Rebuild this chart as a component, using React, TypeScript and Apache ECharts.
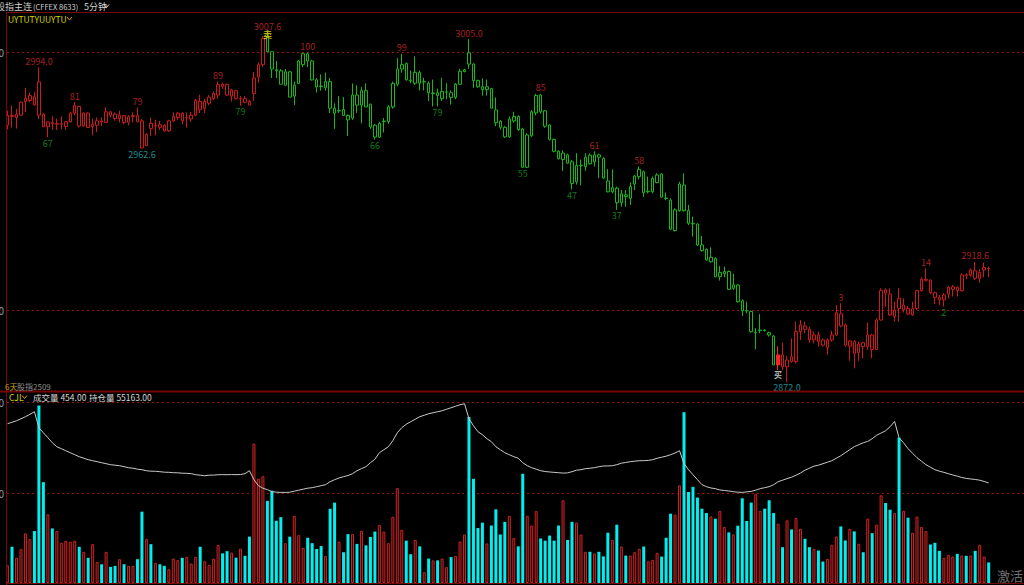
import React, { useEffect, useRef } from "react";
import * as echarts from "echarts";

// 5-minute bars: [open, close, low, high]
const ohlc: number[][] = [
  [2971.6, 2975.3, 2970.0, 2977.2], [2975.5, 2975.0, 2970.7, 2979.2], [2974.6, 2975.9, 2970.3, 2977.9], [2975.5, 2980.5, 2975.2, 2980.8],
  [2980.8, 2982.1, 2976.6, 2986.1], [2981.2, 2983.1, 2980.5, 2984.2], [2982.7, 2979.5, 2979.2, 2984.4], [2988.4, 2975.5, 2974.0, 2994.0],
  [2975.9, 2971.0, 2970.9, 2976.3], [2971.0, 2972.9, 2967.0, 2973.0], [2972.6, 2972.2, 2969.8, 2975.0], [2972.0, 2972.3, 2969.8, 2974.2],
  [2972.0, 2972.2, 2970.0, 2975.0], [2971.1, 2972.9, 2969.8, 2973.3], [2972.9, 2976.3, 2972.7, 2976.8], [2976.3, 2979.2, 2975.5, 2980.5],
  [2978.9, 2971.3, 2970.7, 2979.2], [2971.3, 2976.3, 2971.1, 2976.6], [2976.3, 2970.7, 2970.7, 2976.6], [2971.1, 2972.0, 2967.7, 2974.2],
  [2971.6, 2973.3, 2969.0, 2974.6], [2973.3, 2972.9, 2971.3, 2974.6], [2972.7, 2976.8, 2972.4, 2978.5], [2976.8, 2975.5, 2974.6, 2977.2],
  [2975.9, 2974.2, 2973.3, 2976.6], [2974.2, 2975.5, 2972.7, 2977.2], [2975.3, 2972.7, 2972.0, 2975.5], [2972.7, 2974.9, 2971.6, 2975.5],
  [2975.0, 2975.3, 2972.7, 2976.6], [2975.3, 2972.9, 2972.9, 2978.5], [2973.3, 2962.8, 2962.6, 2974.0], [2963.7, 2968.1, 2963.5, 2968.5],
  [2972.3, 2970.3, 2967.4, 2974.6], [2971.3, 2971.5, 2967.7, 2973.7], [2971.8, 2970.8, 2969.8, 2973.3], [2971.6, 2969.4, 2969.0, 2972.0],
  [2969.4, 2973.3, 2969.0, 2973.6], [2973.3, 2975.0, 2972.9, 2976.6], [2974.6, 2976.3, 2973.7, 2976.8], [2976.3, 2973.3, 2972.0, 2976.6],
  [2974.5, 2974.7, 2970.7, 2976.6], [2974.0, 2975.5, 2972.9, 2976.8], [2975.5, 2981.2, 2975.2, 2981.8], [2980.8, 2977.6, 2976.3, 2983.4],
  [2978.2, 2980.8, 2976.3, 2981.9], [2980.1, 2982.5, 2979.4, 2983.3], [2981.9, 2983.9, 2981.5, 2984.7], [2983.3, 2987.4, 2981.9, 2988.5],
  [2987.4, 2986.7, 2985.7, 2988.1], [2987.4, 2983.3, 2982.9, 2987.8], [2982.9, 2985.3, 2980.8, 2985.7], [2985.0, 2981.9, 2981.5, 2985.3],
  [2981.7, 2981.9, 2979.1, 2982.9], [2981.9, 2980.5, 2980.1, 2982.9], [2980.8, 2979.4, 2979.4, 2981.5], [2983.9, 2989.9, 2981.0, 2992.3],
  [2990.3, 2995.1, 2988.1, 2995.9], [2995.1, 3005.3, 2994.1, 3006.0], [3006.0, 3000.1, 2999.9, 3007.6], [3000.1, 2993.4, 2989.9, 3000.1],
  [2993.1, 2992.7, 2989.9, 2996.5], [2992.7, 2987.5, 2987.5, 2993.4], [2987.1, 2992.3, 2987.1, 2993.4], [2992.3, 2982.5, 2982.5, 2992.7],
  [2982.9, 2987.1, 2979.4, 2988.5], [2987.8, 2996.5, 2987.8, 2996.9], [2995.1, 2999.3, 2994.1, 2999.7], [2999.3, 2996.5, 2994.1, 2999.7],
  [2996.5, 2989.2, 2988.9, 2996.9], [2989.2, 2986.4, 2984.3, 2989.9], [2986.8, 2986.6, 2985.0, 2991.3], [2986.1, 2988.5, 2985.0, 2992.0],
  [2988.5, 2978.2, 2976.3, 2989.9], [2978.2, 2976.3, 2970.2, 2980.1], [2977.1, 2977.3, 2976.3, 2982.9], [2977.7, 2975.4, 2975.1, 2982.5],
  [2975.4, 2973.7, 2967.4, 2975.8], [2974.4, 2983.3, 2973.7, 2987.8], [2983.3, 2979.4, 2976.3, 2987.1], [2979.4, 2985.0, 2972.3, 2986.4],
  [2985.0, 2978.7, 2978.7, 2987.8], [2979.8, 2970.9, 2970.2, 2979.8], [2971.6, 2967.0, 2966.0, 2972.1], [2967.0, 2972.3, 2966.7, 2973.0],
  [2973.0, 2973.2, 2968.8, 2974.4], [2973.0, 2978.7, 2972.1, 2979.4], [2978.7, 2987.8, 2978.0, 2988.5], [2987.5, 2993.4, 2986.7, 2997.6],
  [2993.4, 2995.1, 2992.0, 2999.3], [2995.5, 2989.2, 2988.9, 2995.9], [2989.0, 2988.8, 2987.9, 2992.8], [2987.9, 2992.1, 2987.2, 2998.3],
  [2992.1, 2987.9, 2985.1, 2992.8], [2988.4, 2988.6, 2985.1, 2990.0], [2987.9, 2984.2, 2981.0, 2988.6], [2983.9, 2984.1, 2978.9, 2989.3],
  [2984.2, 2983.1, 2978.9, 2985.8], [2981.9, 2984.7, 2981.0, 2990.0], [2984.4, 2984.5, 2981.7, 2987.9], [2984.2, 2982.4, 2979.6, 2985.1],
  [2982.4, 2987.5, 2981.7, 2987.9], [2987.5, 2992.5, 2987.2, 2993.5], [2992.4, 2993.1, 2992.1, 2993.5], [2999.7, 2995.3, 2993.5, 3005.0],
  [2995.3, 2988.9, 2986.1, 2995.6], [2988.9, 2986.5, 2986.1, 2989.3], [2986.5, 2985.4, 2983.1, 2989.7], [2985.4, 2986.5, 2983.1, 2989.3],
  [2985.8, 2978.2, 2978.2, 2986.1], [2977.5, 2972.6, 2971.2, 2982.4], [2973.1, 2970.8, 2969.9, 2973.6], [2970.8, 2967.1, 2966.7, 2971.2],
  [2967.1, 2974.0, 2966.7, 2975.0], [2973.3, 2975.0, 2972.6, 2976.8], [2975.0, 2969.9, 2969.4, 2975.4], [2970.1, 2955.3, 2955.3, 2970.6],
  [2955.3, 2967.8, 2955.0, 2968.5], [2967.5, 2976.8, 2967.1, 2977.5], [2976.4, 2983.1, 2975.4, 2983.8], [2983.3, 2976.8, 2976.1, 2983.8],
  [2977.2, 2971.2, 2970.6, 2977.5], [2971.7, 2966.1, 2965.7, 2971.9], [2966.1, 2961.5, 2961.1, 2966.4], [2961.5, 2958.7, 2958.3, 2961.9],
  [2958.3, 2960.8, 2953.9, 2961.9], [2960.1, 2956.9, 2956.7, 2960.6], [2957.4, 2949.0, 2946.7, 2958.1], [2949.7, 2956.0, 2948.6, 2960.8],
  [2955.9, 2956.1, 2948.3, 2958.3], [2955.6, 2959.2, 2953.9, 2960.8], [2960.0, 2956.7, 2956.4, 2960.6], [2957.4, 2960.1, 2955.6, 2961.5],
  [2960.1, 2959.2, 2951.1, 2960.6], [2958.7, 2951.1, 2950.8, 2959.2], [2950.0, 2945.8, 2945.6, 2954.6], [2945.8, 2947.4, 2945.2, 2954.5],
  [2947.2, 2941.6, 2938.8, 2947.8], [2941.6, 2945.0, 2940.0, 2946.5], [2944.6, 2943.9, 2940.0, 2946.5], [2943.3, 2947.8, 2940.7, 2949.4],
  [2948.8, 2951.9, 2946.5, 2952.3], [2951.7, 2954.5, 2950.6, 2955.6], [2953.6, 2945.5, 2943.9, 2954.0], [2945.8, 2946.0, 2945.2, 2951.7],
  [2945.8, 2951.0, 2945.2, 2951.7], [2949.4, 2952.3, 2949.1, 2953.0], [2952.7, 2943.7, 2943.7, 2953.0], [2943.4, 2943.2, 2942.6, 2945.5],
  [2942.6, 2931.3, 2931.0, 2943.3], [2930.8, 2938.8, 2930.4, 2939.4], [2938.5, 2948.8, 2938.1, 2949.7], [2948.4, 2938.5, 2938.1, 2953.0],
  [2938.5, 2933.6, 2932.9, 2940.7], [2933.6, 2933.4, 2928.4, 2936.2], [2933.3, 2925.2, 2924.8, 2933.6], [2925.2, 2923.0, 2922.6, 2928.7],
  [2923.5, 2919.4, 2919.1, 2923.9], [2918.7, 2920.4, 2918.3, 2924.3], [2920.0, 2912.9, 2912.7, 2920.4], [2912.9, 2914.5, 2911.4, 2917.0],
  [2914.0, 2914.9, 2912.7, 2916.8], [2914.9, 2908.0, 2907.8, 2915.3], [2908.4, 2909.7, 2907.8, 2914.0], [2909.7, 2903.2, 2902.8, 2910.1],
  [2903.6, 2899.7, 2897.7, 2904.1], [2899.8, 2899.6, 2898.7, 2903.2], [2899.4, 2891.6, 2891.2, 2899.7], [2891.2, 2891.4, 2884.8, 2892.9],
  [2892.0, 2892.2, 2891.0, 2898.4], [2892.2, 2892.0, 2891.6, 2892.5], [2891.2, 2890.3, 2889.7, 2891.6], [2889.9, 2878.7, 2878.7, 2890.3],
  [2878.7, 2882.6, 2876.7, 2886.0], [2882.6, 2878.0, 2876.7, 2887.3], [2878.0, 2880.6, 2872.0, 2882.2], [2881.9, 2880.0, 2879.6, 2889.0],
  [2880.0, 2891.6, 2879.3, 2895.5], [2891.6, 2894.2, 2888.4, 2896.1], [2893.8, 2892.5, 2891.0, 2895.5], [2892.5, 2888.4, 2887.3, 2893.5],
  [2888.4, 2890.3, 2887.1, 2891.6], [2890.3, 2887.7, 2885.8, 2891.6], [2888.4, 2886.4, 2885.8, 2889.0], [2885.5, 2888.4, 2882.6, 2889.0],
  [2888.4, 2890.3, 2887.7, 2892.0], [2890.3, 2899.0, 2889.9, 2901.9], [2898.5, 2893.8, 2893.3, 2902.6], [2894.2, 2886.4, 2885.8, 2894.8],
  [2886.0, 2888.0, 2880.3, 2888.4], [2887.7, 2883.2, 2877.4, 2888.4], [2883.5, 2886.8, 2880.3, 2887.7], [2887.3, 2885.8, 2881.3, 2887.7],
  [2885.8, 2890.3, 2884.5, 2895.1], [2890.3, 2884.7, 2881.3, 2890.7], [2884.7, 2896.1, 2884.5, 2896.8], [2896.1, 2907.5, 2895.9, 2908.4],
  [2907.8, 2906.5, 2901.3, 2908.4], [2906.2, 2898.1, 2897.7, 2908.4], [2897.4, 2900.0, 2895.5, 2903.2], [2904.5, 2900.6, 2895.5, 2908.4],
  [2900.0, 2901.9, 2899.0, 2904.5], [2900.6, 2898.4, 2898.1, 2901.5], [2898.1, 2900.6, 2897.7, 2903.2], [2900.6, 2907.5, 2900.0, 2907.8],
  [2907.5, 2911.9, 2907.1, 2912.7], [2911.5, 2911.8, 2911.0, 2916.1], [2911.6, 2906.7, 2906.2, 2911.9], [2906.7, 2904.9, 2902.3, 2907.1],
  [2904.9, 2903.9, 2901.9, 2905.8], [2903.9, 2905.8, 2901.3, 2906.5], [2906.2, 2908.8, 2904.5, 2909.3], [2908.0, 2909.0, 2905.2, 2909.7],
  [2908.8, 2907.5, 2905.2, 2909.0], [2907.5, 2913.6, 2907.1, 2914.2], [2913.6, 2913.4, 2911.9, 2914.2], [2913.6, 2915.5, 2912.9, 2916.1],
  [2915.2, 2912.3, 2911.6, 2918.6], [2912.3, 2914.5, 2910.6, 2915.8], [2915.5, 2916.5, 2912.7, 2918.4], [2916.2, 2916.1, 2912.7, 2916.8],
];

const volume: number[] = [
  392, 800, 556, 748, 1096, 970, 1148, 3922, 2228, 1518,
  1206, 1148, 888, 932, 910, 932, 800, 688, 556, 858,
  466, 414, 688, 356, 378, 526, 414, 378, 378, 526,
  1576, 970, 858, 444, 414, 378, 304, 540, 504, 556,
  578, 430, 578, 800, 480, 400, 536, 840, 656, 704,
  672, 560, 760, 600, 1024, 3080, 2304, 2360, 1816, 2040,
  1376, 1456, 880, 1024, 1480, 1056, 776, 1000, 880, 752,
  816, 600, 1640, 1776, 912, 680, 1080, 1080, 864, 1152,
  832, 1016, 1136, 1280, 1136, 880, 1464, 2096, 1176, 936,
  636, 952, 810, 238, 540, 500, 500, 540, 350, 572,
  596, 914, 1072, 3668, 2302, 1214, 1334, 874, 1270, 1628,
  1072, 1350, 1484, 992, 810, 2414, 1484, 1270, 1588, 984,
  936, 1048, 936, 1270, 1826, 952, 1350, 1334, 1072, 690,
  690, 652, 690, 588, 1112, 952, 1288, 806, 606, 606,
  680, 754, 806, 480, 510, 666, 584, 1000, 1532, 1510,
  2160, 3774, 2012, 2124, 1888, 1642, 1546, 1472, 1420, 1592,
  1236, 1118, 1074, 1266, 1872, 1370, 1776, 1962, 1592, 1642,
  1828, 1546, 1310, 792, 1384, 1184, 1436, 1198, 976, 792,
  754, 718, 474, 532, 844, 1028, 1250, 940, 1198, 1140,
  866, 680, 1420, 1102, 1288, 1938, 1768, 1620, 1546, 3212,
  1598, 1444, 1110, 1466, 1236, 1148, 852, 888, 710, 556,
  622, 584, 644, 606, 600, 606, 710, 844, 584, 454,
];

const openInterest: number[] = [
  56800, 56841, 56882, 56938, 56993, 57062, 57131, 56689, 56551, 56413,
  56275, 56165, 56110, 56054, 55999, 55944, 55889, 55847, 55806, 55778,
  55751, 55723, 55696, 55668, 55654, 55640, 55613, 55585, 55571, 55544,
  55530, 55502, 55489, 55486, 55475, 55461, 55458, 55447, 55444, 55433,
  55430, 55420, 55392, 55378, 55364, 55378, 55380, 55392, 55394, 55391,
  55395, 55393, 55396, 55420, 55502, 55254, 55088, 55019, 54978, 54923,
  54909, 54904, 54902, 54909, 54937, 54964, 54992, 55019, 55033, 55061,
  55088, 55116, 55199, 55254, 55301, 55337, 55370, 55420, 55502, 55558,
  55613, 55723, 55817, 55999, 56082, 56165, 56330, 56551, 56689, 56786,
  56855, 56924, 56993, 57034, 57076, 57103, 57131, 57158, 57200, 57241,
  57283, 57324, 57352, 56938, 56744, 56579, 56496, 56386, 56303, 56165,
  56082, 55999, 55944, 55889, 55847, 55723, 55640, 55585, 55544, 55502,
  55480, 55467, 55456, 55447, 55436, 55442, 55475, 55516, 55530, 55558,
  55571, 55585, 55613, 55632, 55633, 55640, 55668, 55709, 55729, 55751,
  55765, 55778, 55779, 55787, 55806, 55847, 55875, 55903, 55944, 55991,
  56054, 55696, 55530, 55392, 55254, 55116, 55061, 55025, 55006, 54970,
  54956, 54942, 54923, 54909, 54904, 54917, 54931, 54964, 55006, 55033,
  55061, 55116, 55199, 55240, 55282, 55323, 55378, 55439, 55516, 55571,
  55627, 55654, 55696, 55737, 55778, 55847, 55916, 55999, 56082, 56165,
  56220, 56275, 56311, 56386, 56482, 56543, 56606, 56717, 56863, 56413,
  56275, 56110, 55985, 55861, 55765, 55668, 55599, 55530, 55489, 55456,
  55420, 55384, 55351, 55315, 55290, 55273, 55260, 55240, 55204, 55163,
];

// trend segments of the indicator colouring (bar index where each starts)
const greenFrom = 58;
const redFrom = 172;

const RED = "#cc1a1a";
const GREEN = "#16b816";
const BRIGHT = "#ff2222";
const LBL_RED = "#d02a2a";
const LBL_GREEN = "#169c16";
const LBL_CYAN = "#25b2b2";

// annotations: [bar index, text, colour]
const highMarks: [number, string, string][] = [
  [7, "2994.0", LBL_RED], [15, "81", LBL_RED], [29, "79", LBL_RED], [47, "89", LBL_RED],
  [58, "3007.6", LBL_RED], [67, "100", LBL_RED], [88, "99", LBL_RED], [103, "3005.0", LBL_RED],
  [119, "85", LBL_RED], [131, "61", LBL_RED], [141, "58", LBL_RED], [186, "3", LBL_RED],
  [205, "14", LBL_RED], [216, "2918.6", LBL_RED],
];
const lowMarks: [number, string, string][] = [
  [9, "67", LBL_GREEN], [30, "2962.6", LBL_CYAN], [52, "79", LBL_GREEN], [82, "66", LBL_GREEN],
  [96, "79", LBL_GREEN], [115, "55", LBL_GREEN], [126, "47", LBL_GREEN], [136, "37", LBL_GREEN],
  [172, "买", "#e8e8e8"], [174, "2872.0", LBL_CYAN], [209, "2", LBL_GREEN],
];
const sellMark: [number, string] = [58, "卖"];

const priceTicks = [3000, 2900];
const volumeTicks = [4000, 2000];

const FONT = "'Noto Sans CJK SC', 'Liberation Sans', sans-serif";

export default function App() {
  const ref = useRef<HTMLDivElement>(null);

  useEffect(() => {
    document.body.style.margin = "0";
    document.body.style.background = "#000";
    const chart = echarts.init(ref.current!, null, { renderer: "svg" });

    const cats = ohlc.map((_, i) => String(i));

    const candleData = ohlc.map((d, i) => {
      const col = i >= greenFrom && i < redFrom ? GREEN : RED;
      const special = i === redFrom;
      return {
        value: d,
        itemStyle: {
          color: special ? BRIGHT : "#000000",
          color0: col,
          borderColor: special ? BRIGHT : col,
          borderColor0: col,
          borderWidth: 1,
        },
      };
    });

    const volData = volume.map((v, i) => {
      const up = ohlc[i][1] >= ohlc[i][0];
      return {
        value: v,
        itemStyle: up
          ? { color: "#2e0000", borderColor: "#c82424", borderWidth: 1 }
          : { color: "#00eeee", borderWidth: 0 },
      };
    });

    const markData: any[] = [
      ...highMarks.map(([i, t, c]) => ({
        value: [i, ohlc[i][3]],
        name: t,
        label: { position: "top", color: c, distance: 1 },
      })),
      ...lowMarks.map(([i, t, c]) => ({
        value: [i, ohlc[i][2]],
        name: t,
        label:
          t === "买"
            ? { position: "bottom", color: c, distance: 0, fontWeight: "bold", fontSize: 8, lineHeight: 8 }
            : t === "2872.0"
            ? { position: "bottom", color: c, distance: 0, fontSize: 9, lineHeight: 9 }
            : { position: "bottom", color: c, distance: 1 },
      })),
      {
        value: [sellMark[0], ohlc[sellMark[0]][3]],
        name: sellMark[1],
        label: { position: "inside", color: "#e8d81c", fontWeight: "bold", fontSize: 9, offset: [0, 2] },
      },
    ];

    const gridLeft = 5.3;
    const gridWidth = 985.6;

    chart.setOption({
      animation: false,
      backgroundColor: "#000000",
      grid: [
        { left: gridLeft, top: 13, width: gridWidth, height: 378 },
        { left: gridLeft, top: 402, width: gridWidth, height: 181 },
      ],
      xAxis: [
        { type: "category", data: cats, gridIndex: 0, show: false, boundaryGap: true },
        { type: "category", data: cats, gridIndex: 1, show: false, boundaryGap: true },
      ],
      yAxis: [
        { type: "value", gridIndex: 0, min: 2868.6, max: 3015.1, show: false, splitLine: { show: false } },
        { type: "value", gridIndex: 1, min: 0, max: 4000, show: false, splitLine: { show: false } },
        { type: "value", gridIndex: 1, min: 52400, max: 57400, show: false, splitLine: { show: false } },
      ],
      series: [
        {
          type: "candlestick",
          xAxisIndex: 0,
          yAxisIndex: 0,
          data: candleData,
          barWidth: 3,
          silent: true,
        },
        {
          type: "scatter",
          xAxisIndex: 0,
          yAxisIndex: 0,
          data: markData,
          symbolSize: 1,
          itemStyle: { color: "rgba(0,0,0,0)" },
          label: {
            show: true,
            formatter: "{b}",
            fontSize: 9,
            fontFamily: FONT,
          },
          silent: true,
          z: 5,
        },
        {
          type: "bar",
          xAxisIndex: 1,
          yAxisIndex: 1,
          data: volData,
          barWidth: 3,
          silent: true,
        },
        {
          type: "line",
          xAxisIndex: 1,
          yAxisIndex: 2,
          data: openInterest,
          symbol: "none",
          lineStyle: { color: "#c8c8c8", width: 1 },
          silent: true,
          z: 4,
        },
      ],
    });

    const py = (v: number) => chart.convertToPixel({ yAxisIndex: 0 }, v) as number;
    const vy = (v: number) => chart.convertToPixel({ yAxisIndex: 1 }, v) as number;

    const frame = "#780808";
    const elements: any[] = [];
    const addDash = (y: number) =>
      elements.push({
        type: "line",
        shape: { x1: 7, y1: Math.round(y) + 0.5, x2: 1024, y2: Math.round(y) + 0.5 },
        style: { stroke: "#9a1010", lineWidth: 1, lineDash: [2, 3] },
        z: 1,
      });
    const addAxisLabel = (y: number, v: number) =>
      elements.push({
        type: "text",
        x: 4,
        y: Math.round(y),
        style: { text: String(v), align: "right", verticalAlign: "middle", fill: "#8c9cb0", font: `10px ${FONT}` },
        z: 10,
      });
    priceTicks.forEach((v) => {
      addDash(py(v));
      addAxisLabel(py(v), v);
    });
    volumeTicks.forEach((v) => {
      addDash(vy(v));
      addAxisLabel(vy(v), v);
    });

    const line = (x1: number, y1: number, x2: number, y2: number, w = 1, c = frame) =>
      elements.push({ type: "line", shape: { x1, y1, x2, y2 }, style: { stroke: c, lineWidth: w }, z: 9 });
    line(6.5, 12, 6.5, 585);
    line(6, 12.5, 1024, 12.5);
    line(0, 391.5, 1024, 391.5, 2, "#740606");
    line(6, 583.5, 1024, 583.5);

    const text = (x: number, y: number, t: string, fill: string, size: number, weight = "normal") =>
      elements.push({
        type: "text",
        x,
        y,
        style: { text: t, fill, font: `${weight} ${size}px ${FONT}`, verticalAlign: "middle", align: "left" },
        z: 10,
      });
    const chevron = (x: number, y: number, c: string) =>
      elements.push({
        type: "polyline",
        shape: { points: [[x, y], [x + 2.5, y + 3], [x + 5, y]] },
        style: { stroke: c, lineWidth: 1, fill: null },
        z: 10,
      });

    text(-4, 6, "股指主连", "#d0d0d0", 9);
    text(33, 6, "(CFFEX 8633)", "#d0d0d0", 7.5);
    text(84, 6, "5分钟", "#d0d0d0", 9);
    chevron(104, 4.5, "#d0d0d0");

    text(8, 18.5, "UYTUTYUUYTU", "#d6d600", 8.5);
    chevron(67, 17, "#d6a000");

    text(5, 386, "6天", "#c8a000", 8);
    text(17, 386, "股指2509", "#8c8c8c", 8);

    text(9, 397, "CJL", "#d6d600", 8.5);
    chevron(22, 395.5, "#d6a000");
    text(33, 397, "成交量 454.00", "#d4d4d4", 8.5);
    text(89, 397, "持仓量 55163.00", "#d4d4d4", 8.5);

    text(997, 575, "激活", "#707070", 13);

    chart.setOption({ graphic: elements });

    return () => chart.dispose();
  }, []);

  return <div ref={ref} style={{ width: 1024, height: 585, background: "#000" }} />;
}
